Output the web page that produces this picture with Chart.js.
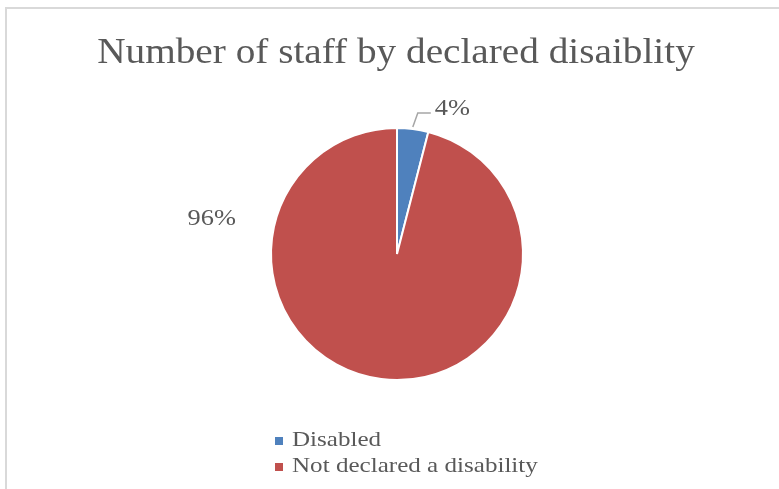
<!DOCTYPE html>
<html>
<head>
<meta charset="utf-8">
<script src="https://cdn.jsdelivr.net/npm/chart.js@4"></script>
<style>
  html, body { margin: 0; padding: 0; background: #fff; }
  #wrap { position: relative; width: 779px; height: 489px; }
</style>
</head>
<body>
<div id="wrap"><canvas id="c" width="779" height="489"></canvas></div>
<script>
const categories = ["Disabled", "Not declared a disability"];
const values = [4, 96];
const colors = ["#4F81BD", "#C0504D"];
const title = "Number of staff by declared disaiblity";

const FONT = '"Liberation Serif", "DejaVu Serif", serif';
const TEXT = '#595959';

function stretchText(ctx, txt, x, y, sx, align) {
  ctx.save();
  ctx.textAlign = align;
  ctx.translate(x, y);
  ctx.scale(sx, 1);
  ctx.fillText(txt, 0, 0);
  ctx.restore();
}

const decor = {
  id: 'decor',
  beforeDraw(chart) {
    const ctx = chart.ctx;
    ctx.save();
    ctx.fillStyle = '#fff';
    ctx.fillRect(0, 0, chart.width, chart.height);
    ctx.strokeStyle = '#d9d9d9';
    ctx.lineWidth = 2;
    ctx.beginPath();
    ctx.moveTo(6, chart.height);
    ctx.lineTo(6, 8);
    ctx.lineTo(chart.width, 8);
    ctx.stroke();
    ctx.restore();
  },
  afterDraw(chart) {
    const ctx = chart.ctx;
    ctx.save();
    ctx.fillStyle = TEXT;
    ctx.textBaseline = 'alphabetic';
    // title
    ctx.font = '36px ' + FONT;
    stretchText(ctx, title, 396, 63, 1.09, 'center');

    // data labels
    const meta = chart.getDatasetMeta(0);
    const total = values.reduce((a, b) => a + b, 0);
    const arc0 = meta.data[0];
    const cx = arc0.x, cy = arc0.y, r = arc0.outerRadius;
    ctx.font = '24px ' + FONT;
    const mid0 = (arc0.startAngle + arc0.endAngle) / 2;
    const sx = cx + r * Math.cos(mid0), sy = cy + r * Math.sin(mid0);
    ctx.strokeStyle = '#a6a6a6';
    ctx.lineWidth = 1.5;
    ctx.beginPath();
    ctx.moveTo(sx, sy - 2);
    ctx.lineTo(sx + 5, sy - 16);
    ctx.lineTo(sx + 18, sy - 16);
    ctx.stroke();
    stretchText(ctx, Math.round(values[0] / total * 100) + '%', sx + 22, sy - 14, 1.1, 'left');
    stretchText(ctx, Math.round(values[1] / total * 100) + '%', cx - 1.47 * r, cy - 0.23 * r, 1.1, 'center');

    // legend
    ctx.font = '22px ' + FONT;
    categories.forEach((c, i) => {
      const y = 446 + i * 26;
      ctx.fillStyle = colors[i];
      ctx.fillRect(275, y - 9, 8, 8);
      ctx.fillStyle = TEXT;
      stretchText(ctx, c, 292, y, 1.14, 'left');
    });
    ctx.restore();
  }
};

new Chart(document.getElementById('c'), {
  type: 'pie',
  data: {
    labels: categories,
    datasets: [{
      data: values,
      backgroundColor: colors,
      borderColor: '#ffffff',
      borderWidth: 2,
      hoverOffset: 0
    }]
  },
  options: {
    responsive: false,
    animation: false,
    radius: 126,
    layout: { padding: { top: 128, bottom: 109, left: 271, right: 256 } },
    plugins: {
      legend: { display: false },
      title: { display: false },
      tooltip: { enabled: false }
    }
  },
  plugins: [decor]
});
</script>
</body>
</html>
